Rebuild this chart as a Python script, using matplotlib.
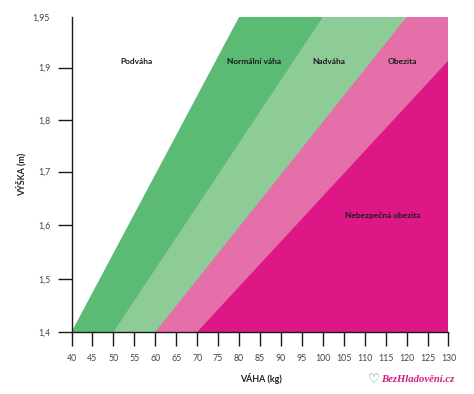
import numpy as np
import matplotlib
matplotlib.use("Agg")
import matplotlib.pyplot as plt

height_ticks = [1.4, 1.5, 1.6, 1.7, 1.8, 1.9, 1.95]
height_labels = ["1,4", "1,5", "1,6", "1,7", "1,8", "1,9", "1,95"]
weight_ticks = list(range(40, 135, 5))

# zone lower edges: (weight at 1.4 m, weight at the upper end, height at the upper end)
normal_edge_w = [40, 80]
normal_edge_h = [1.4, 1.95]
over_edge_w = [50, 100]
over_edge_h = [1.4, 1.95]
obese_edge_w = [60, 120]
obese_edge_h = [1.4, 1.95]
danger_edge_w = [70, 130]
danger_edge_h = [1.4, 1.907]

zone_names = ["Podváha", "Normální váha", "Nadváha", "Obezita", "Nebezpečná obezita"]
zone_label_w = [55.4, 83.6, 101.5, 118.9, 114.4]
zone_label_h = [1.906, 1.906, 1.906, 1.906, 1.617]

C_NORMAL, C_OVER, C_OBESE, C_DANGER = "#5BBA73", "#8ECC97", "#E56FA9", "#DE1786"
W, H = 474, 394

plt.rcParams["font.family"] = ["Lato", "DejaVu Sans"]
fig = plt.figure(figsize=(W / 100, H / 100), dpi=100)
ax = fig.add_axes([71.5 / W, 1 - 332 / H, (448.5 - 71.5) / W, (332 - 17) / H])

# the reference's height axis is unevenly spaced: the last step is 0.05 at nearly full width
pos = np.array([0, 53, 107, 160.5, 212, 264.5, 315.0])
ax.set_yscale("function", functions=(
    lambda v: np.interp(v, height_ticks, pos),
    lambda p: np.interp(p, pos, height_ticks),
))
ax.set_xlim(40, 130)
ax.set_ylim(1.4, 1.95)

xr, yb, yt = 130, 1.4, 1.95
ax.fill([normal_edge_w[0], normal_edge_w[1], xr, xr], [normal_edge_h[0], normal_edge_h[1], yt, yb],
        color=C_NORMAL, lw=0, zorder=1)
ax.fill([over_edge_w[0], over_edge_w[1], xr, xr], [over_edge_h[0], over_edge_h[1], yt, yb],
        color=C_OVER, lw=0, zorder=2)
ax.fill([obese_edge_w[0], obese_edge_w[1], xr, xr], [obese_edge_h[0], obese_edge_h[1], yt, yb],
        color=C_OBESE, lw=0, zorder=3)
ax.fill([danger_edge_w[0], danger_edge_w[1], xr], [danger_edge_h[0], danger_edge_h[1], yb],
        color=C_DANGER, lw=0, zorder=4)

for name, wv, hv in zip(zone_names, zone_label_w, zone_label_h):
    ax.text(wv, hv, name, ha="center", va="center", fontsize=6.0, fontweight="bold",
            color="#1c1c1c", zorder=6)

for s in ("top", "right"):
    ax.spines[s].set_visible(False)
for s in ("left", "bottom"):
    ax.spines[s].set_linewidth(1.0)
    ax.spines[s].set_color("#1a1a1a")
    ax.spines[s].set_zorder(7)

ax.set_xticks(weight_ticks)
ax.set_xticklabels([str(v) for v in weight_ticks])
ax.set_yticks(height_ticks)
ax.set_yticklabels(height_labels)
ax.minorticks_off()
ax.tick_params(axis="x", length=10, width=1.0, color="#1a1a1a", labelsize=6.3,
               labelcolor="#444444", pad=5.5)
ax.tick_params(axis="y", length=10, width=1.0, color="#1a1a1a", labelsize=6.3,
               labelcolor="#444444", pad=5.5)
# the top label has no tick mark in the reference
ax.yaxis.get_major_ticks()[-1].tick1line.set_visible(False)

fig.text(260.5 / W, 1 - 379 / H, "VÁHA (kg)", ha="center", va="center", fontsize=6.4,
         fontweight="bold", color="#222222")
fig.text(21 / W, 1 - 174 / H, "VÝŠKA (m)", ha="center", va="center", rotation=90,
         fontsize=6.4, fontweight="bold", color="#222222")

fig.text(373.5 / W, 1 - 379.5 / H, "\u2661", ha="center", va="center", fontsize=9.5,
         color="#2FA97C", fontweight="bold", family=["DejaVu Sans"])
fig.text(381 / W, 1 - 380 / H, "BezHladovění.cz", ha="left", va="center", fontsize=7.7,
         fontweight="bold", style="italic", color="#D21C85", family=["Liberation Serif"])

fig.savefig("out.png", dpi=100)
